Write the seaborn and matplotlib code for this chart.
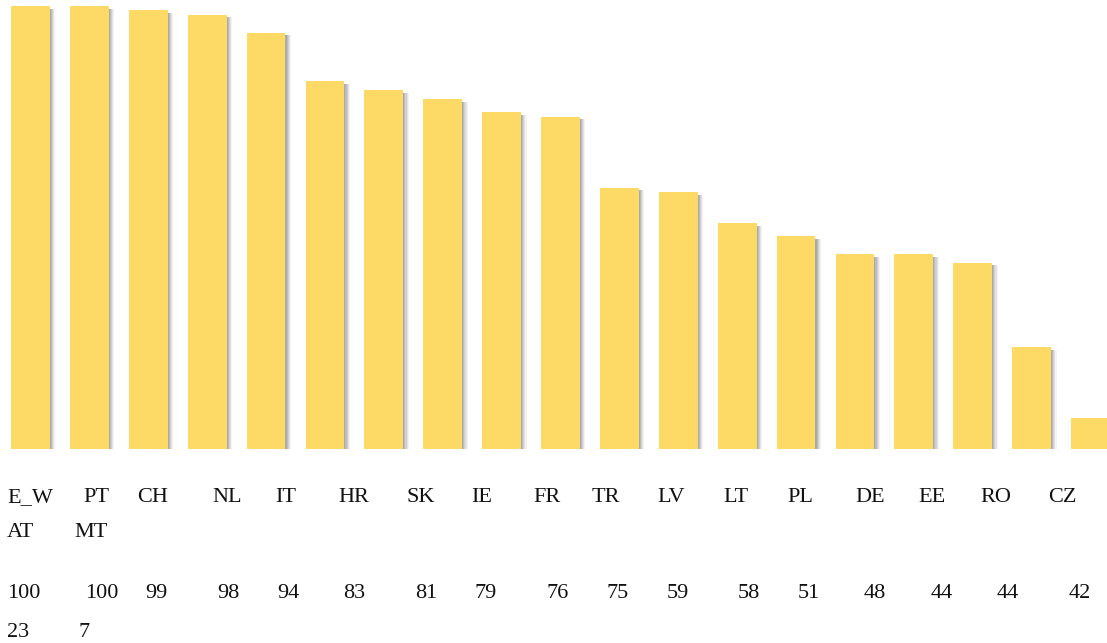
import matplotlib
matplotlib.use("Agg")
import matplotlib.pyplot as plt
import matplotlib.patheffects as pe
import seaborn as sns
import pandas as pd

# Country scores, sorted from highest to lowest
countries = ["E_W", "PT", "CH", "NL", "IT", "HR", "SK", "IE", "FR", "TR",
             "LV", "LT", "PL", "DE", "EE", "RO", "CZ", "AT", "MT"]
scores = [100, 100, 99, 98, 94, 83, 81, 79, 76, 75,
          59, 58, 51, 48, 44, 44, 42, 23, 7]

# Text layout below the bars (pixel columns of each label / value)
label_x = [7, 83, 137, 212, 275, 338, 407, 471, 533, 592,
           657, 723, 787, 855, 918, 980, 1048, 7, 74]
value_x = [7, 85, 145, 217, 277, 343, 415, 474, 547, 607,
           667, 738, 798, 864, 931, 997, 1069, 7, 78]
first_row = 17  # labels that fit on the first line

W, H = 1107, 643
BAR_COLOR = "#FDD966"

sns.set_theme(style="white")
plt.rcParams["font.family"] = ["Liberation Serif", "DejaVu Serif"]

fig = plt.figure(figsize=(W / 100, H / 100), dpi=100)
base_px, top_px = 449, 6
ax = fig.add_axes([0, 1 - base_px / H, 1, (base_px - top_px) / H])

df = pd.DataFrame({"country": countries, "score": scores})
sns.barplot(data=df, x="country", y="score", order=countries,
            color=BAR_COLOR, saturation=1, width=0.66, ax=ax)

# soft grey drop shadow to the right of each bar (stacked layers fake a blur)
shadow = [
    pe.SimplePatchShadow(offset=(dx, -1.8), shadow_rgbFace="#707070", alpha=a)
    for dx, a in [(0.8, 0.22), (1.6, 0.20), (2.4, 0.16), (3.2, 0.12), (4.0, 0.08)]
] + [pe.Normal()]
for p in ax.patches:
    p.set_path_effects(shadow)
    p.set_edgecolor("none")

pitch = (1071 - 11) / 18
ax.set_xlim(-30.5 / pitch, 18 + (W - 1090.5) / pitch)
ax.set_ylim(0, 100)
ax.axis("off")

fs = 16
rows = [(0, first_row, 502, 598), (first_row, len(countries), 537, 637)]
for start, stop, y_lab, y_val in rows:
    for i in range(start, stop):
        fig.text(label_x[i] / W, 1 - y_lab / H, countries[i], fontsize=fs,
                 ha="left", va="baseline", color="#111111")
        fig.text(value_x[i] / W, 1 - y_val / H, str(scores[i]), fontsize=fs,
                 ha="left", va="baseline", color="#111111")

fig.savefig("out.png", dpi=100)
